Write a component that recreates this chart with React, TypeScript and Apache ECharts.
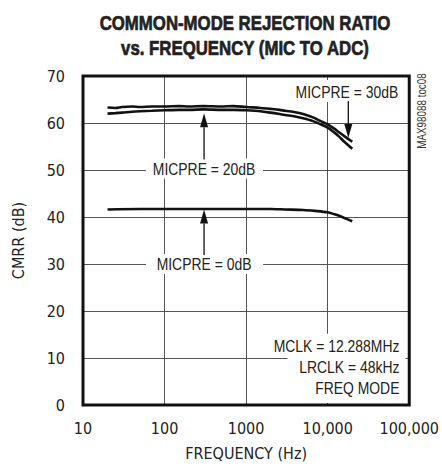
import React, { useEffect, useRef } from "react";
import * as echarts from "echarts";

const AXIS_FONT = "'DejaVu Sans Condensed', 'Liberation Sans', sans-serif";
const NOTE_FONT = "'Liberation Sans', Arial, sans-serif";
const NARROW = 0.82;

// X axis (log) tick labels
const freqTicks = [10, 100, 1000, 10000, 100000];
const freqTickLabels = ["10", "100", "1000", "10,000", "100,000"];

// MICPRE = 30dB
const freq30 = [20, 25, 30, 40, 50, 70, 100, 150, 200, 300, 500, 700, 1000, 1500, 2000, 2570, 3000, 4000, 5000, 6600, 8000, 10000, 12000, 13600, 16000, 20000];
const cmrr30 = [63.3, 63.2, 63.4, 63.5, 63.4, 63.5, 63.5, 63.6, 63.5, 63.6, 63.5, 63.6, 63.4, 63.2, 63.0, 62.8, 62.6, 62.3, 61.9, 61.2, 60.5, 59.7, 58.8, 58.1, 57.2, 56.0];

// MICPRE = 20dB
const freq20 = [20, 25, 30, 40, 50, 70, 100, 150, 200, 300, 500, 700, 1000, 1500, 2000, 2570, 3000, 4000, 5000, 6600, 8000, 10000, 12000, 13600, 16000, 20000];
const cmrr20 = [62.0, 62.1, 62.2, 62.4, 62.5, 62.6, 62.7, 62.8, 62.8, 62.9, 62.8, 62.8, 62.7, 62.5, 62.2, 61.9, 61.7, 61.4, 61.0, 60.4, 59.8, 59.0, 58.0, 57.2, 56.0, 54.5];

// MICPRE = 0dB
const freq0 = [20, 50, 100, 200, 500, 1000, 2000, 3000, 5000, 7000, 10000, 12000, 13600, 16000, 20000];
const cmrr0 = [41.6, 41.7, 41.7, 41.7, 41.7, 41.7, 41.7, 41.6, 41.5, 41.3, 41.0, 40.6, 40.3, 39.8, 39.1];

const zip = (xs: number[], ys: number[]) => xs.map((x, i) => [x, ys[i]]);

export default function App() {
  const ref = useRef<HTMLDivElement>(null);
  useEffect(() => {
    const el = ref.current!;
    const chart = echarts.init(el, null, { renderer: "svg" });
    const lineSeries = (name: string, xs: number[], ys: number[]) => ({
      name,
      type: "line",
      data: zip(xs, ys),
      showSymbol: false,
      smooth: 0.3,
      z: 5,
      lineStyle: { color: "#111", width: 2.6 },
    });
    chart.setOption({
      animation: false,
      backgroundColor: "#fff",
      grid: { left: 83, right: 27, top: 76, bottom: 58, show: false },
      xAxis: {
        type: "log",
        logBase: 10,
        min: 10,
        max: 100000,
        name: "FREQUENCY (Hz)",
        nameLocation: "middle",
        nameGap: 40,
        nameTextStyle: { fontFamily: AXIS_FONT, fontSize: 16, color: "#222" },
        axisLine: { show: false },
        axisTick: { show: false },
        axisLabel: {
          fontFamily: AXIS_FONT,
          fontSize: 16,
          color: "#222",
          margin: 15,
          formatter: (v: number) => {
            const i = freqTicks.findIndex((t) => Math.abs(Math.log10(t) - Math.log10(v)) < 1e-6);
            return i >= 0 ? freqTickLabels[i] : "";
          },
        },
        splitLine: { show: true, showMinLine: false, showMaxLine: false, lineStyle: { color: "#555", width: 1 } },
      },
      yAxis: {
        type: "value",
        min: 0,
        max: 70,
        interval: 10,
        name: "CMRR (dB)",
        nameLocation: "middle",
        nameGap: 57,
        nameTextStyle: { fontFamily: AXIS_FONT, fontSize: 16, color: "#222" },
        axisLine: { show: false },
        axisTick: { show: false },
        axisLabel: { fontFamily: AXIS_FONT, fontSize: 16, color: "#222", margin: 18 },
        splitLine: { show: true, showMinLine: false, showMaxLine: false, lineStyle: { color: "#555", width: 1 } },
      },
      series: [
        lineSeries("MICPRE = 30dB", freq30, cmrr30),
        lineSeries("MICPRE = 20dB", freq20, cmrr20),
        lineSeries("MICPRE = 0dB", freq0, cmrr0),
      ],
    });

    const px = (f: number, v: number) => chart.convertToPixel({ gridIndex: 0 }, [f, v]) as number[];
    const [x0, yBottom] = px(10, 0);
    const [x1, yTop] = px(100000, 70);

    const els: any[] = [];
    const txt = (text: string, x: number, y: number, align = "center", size = 17) => ({
      type: "text",
      x,
      y,
      z: 20,
      scaleX: NARROW,
      style: { text, fontFamily: NOTE_FONT, fontSize: size, fill: "#222", align, verticalAlign: "middle" },
    });
    const white = (x: number, y: number, w: number, h: number) => ({
      type: "rect",
      z: 3,
      shape: { x, y, width: w, height: h },
      style: { fill: "#fff", stroke: null },
    });
    const arrow = (x: number, tipY: number, tailY: number) => {
      const dir = tailY > tipY ? 1 : -1; // 1: pointing up
      const head = 14;
      const base = tipY + dir * head;
      return [
        { type: "line", z: 20, shape: { x1: x, y1: tailY, x2: x, y2: base }, style: { stroke: "#111", lineWidth: 1.3 } },
        { type: "polygon", z: 20, shape: { points: [[x - 4, base], [x + 4, base], [x, tipY]] }, style: { fill: "#111" } },
      ];
    };

    // MICPRE = 30dB
    const [t30x, t30y] = px(17200, 66.6);
    els.push(white(t30x - 54, t30y - 12, 108, 22));
    els.push(txt("MICPRE = 30dB", t30x, t30y));
    const [a30x, a30tip] = px(17900, 56.8);
    els.push(...arrow(a30x, a30tip, t30y + 9));

    // MICPRE = 20dB
    const [t20x, t20y] = px(305, 50.3);
    els.push(white(t20x - 58, t20y - 10, 117, 20));
    els.push(txt("MICPRE = 20dB", t20x, t20y));
    const [a20x, a20tip] = px(305, 62.1);
    els.push(...arrow(a20x, a20tip, t20y - 9));

    // MICPRE = 0dB
    const [t0x, t0y] = px(305, 30);
    els.push(white(t0x - 58, t0y - 10, 117, 20));
    els.push(txt("MICPRE = 0dB", t0x, t0y));
    const [a0x, a0tip] = px(305, 41.6);
    els.push(...arrow(a0x, a0tip, t0y - 9));

    // Conditions block
    const [cx, cy1] = px(75900, 12.6);
    const [, cy2] = px(75900, 8.0);
    const [, cy3] = px(75900, 3.65);
    els.push(white(cx - 112, cy1 - 12, 118, yBottom - 2 - (cy1 - 12)));
    els.push(txt("MCLK = 12.288MHz", cx, cy1, "right"));
    els.push(txt("LRCLK = 48kHz", cx, cy2, "right"));
    els.push(txt("FREQ MODE", cx, cy3, "right"));

    // Frame
    els.push({
      type: "rect",
      z: 30,
      shape: { x: x0, y: yTop, width: x1 - x0, height: yBottom - yTop },
      style: { fill: "none", stroke: "#111", lineWidth: 3 },
    });

    // Title
    const titleStyle = { fontFamily: NOTE_FONT, fontWeight: "bold", fontSize: 21, fill: "#222", stroke: "#222", lineWidth: 0.7, align: "center", verticalAlign: "middle" };
    els.push({ type: "text", x: 245, y: 23, z: 20, scaleX: 0.8, style: { ...titleStyle, text: "COMMON-MODE REJECTION RATIO" } });
    els.push({ type: "text", x: 245, y: 48, z: 20, scaleX: 0.8, style: { ...titleStyle, text: "vs. FREQUENCY (MIC TO ADC)" } });

    // Side code
    els.push({
      type: "text", x: 422, y: 111, z: 20, rotation: Math.PI / 2, scaleX: NARROW,
      style: { text: "MAX98088 toc08", fontFamily: NOTE_FONT, fontSize: 12, fill: "#333", align: "center", verticalAlign: "middle" },
    });

    chart.setOption({ graphic: { elements: els } });
    return () => chart.dispose();
  }, []);
  return <div ref={ref} style={{ position: "fixed", left: 0, top: 0, width: 442, height: 466 }} />;
}
